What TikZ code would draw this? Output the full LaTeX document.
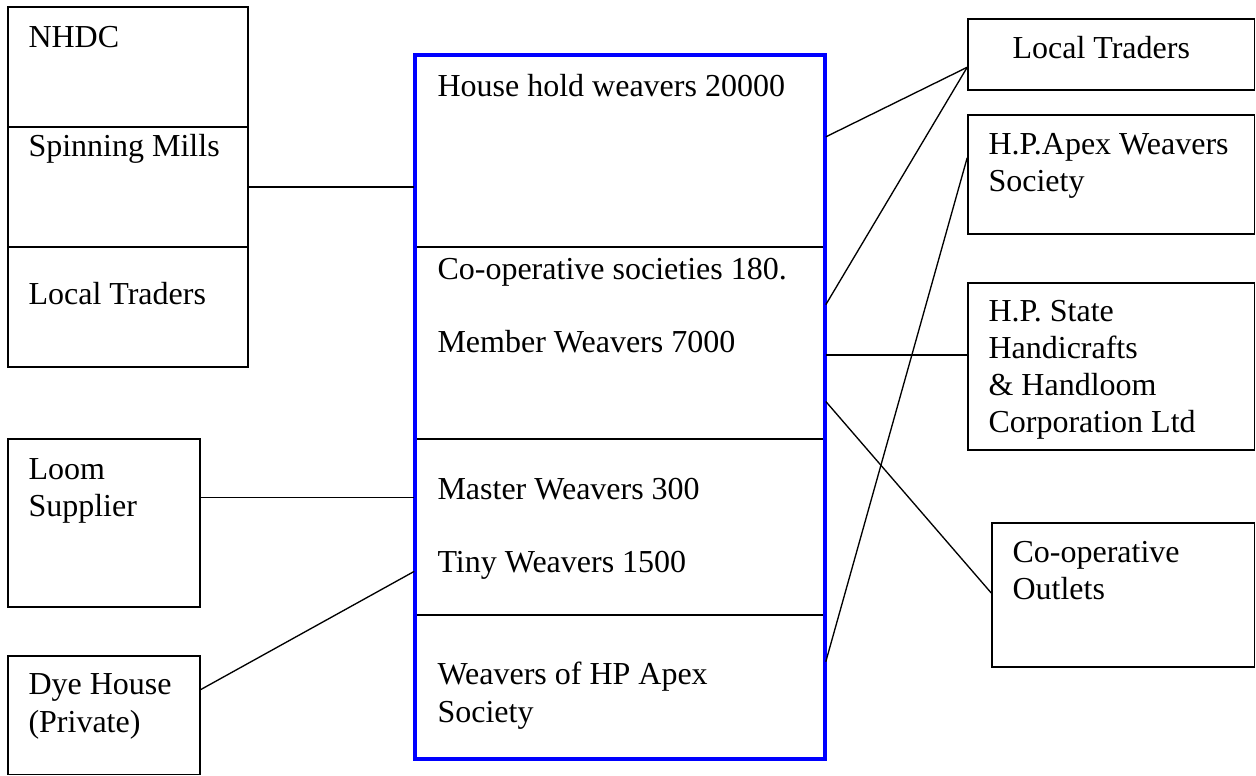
\documentclass[tikz,border=0pt]{standalone}
\usepackage{fontspec}
\setmainfont{Liberation Serif}
\usetikzlibrary{fit,calc}
\begin{document}
\begin{tikzpicture}[x=0.375pt,y=-0.375pt,
  box/.style={draw=black, line width=0.6pt, inner sep=0pt},
  bluebox/.style={draw=blue, line width=1.25pt, inner sep=0pt},
  lbl/.style={font=\fontsize{12}{13.9}\selectfont, inner sep=0pt, anchor=base west, align=left},
  conn/.style={draw=black, line width=0.5pt}]
\useasboundingbox (0,0) rectangle (1256,776);
% left stacked boxes
\node[box, fit={(8,7)(248,127)}] (nhdc) {};
\node[box, fit={(8,127)(248,247)}] (spin) {};
\node[box, fit={(8,247)(248,367)}] (ltl) {};
\node[box, fit={(8,439)(200,607)}] (loom) {};
\node[box, fit={(8,656)(200,774.5)}] (dye) {};
% middle sections
\node[box, fit={(415,55)(825,247)}] (hh) {};
\node[box, fit={(415,247)(825,439)}] (coop) {};
\node[box, fit={(415,439)(825,615)}] (master) {};
\node[box, fit={(415,615)(825,759)}] (apex) {};
\node[bluebox, fit={(415,55)(825,759)}] (mid) {};
% right boxes
\node[box, fit={(968,19)(1254.5,90)}] (rlt) {};
\node[box, fit={(968,115)(1254.5,234)}] (rapex) {};
\node[box, fit={(968,283)(1254.5,450)}] (rstate) {};
\node[box, fit={(992,523)(1254.5,667)}] (rout) {};
% labels (base = baseline of last line)
\node[lbl] (tnhdc) at (28,48) {NHDC};
\node[lbl] (tspin) at (28,157) {Spinning Mills};
\node[lbl] (tltl) at (28,305) {Local Traders};
\node[lbl] (tloom) at (28,517) {Loom\\Supplier};
\node[lbl] (tdye) at (28,732) {Dye House\\(Private)};
\node[lbl] (thh) at (437,97) {House hold weavers 20000};
\node[lbl] (tcoop) at (437,280) {Co-operative societies 180.};
\node[lbl] (tmem) at (437,353) {Member Weavers 7000};
\node[lbl] (tmaster) at (437,500) {Master Weavers 300};
\node[lbl] (ttiny) at (437,573) {Tiny Weavers 1500};
\node[lbl] (tapex) at (437,722) {Weavers of HP Apex\\Society};
\node[lbl] (trlt) at (1012,59) {Local Traders};
\node[lbl] (trapex) at (988,192) {H.P.Apex Weavers\\Society};
\node[lbl] (trstate) at (988,433) {H.P. State\\Handicrafts\\\& Handloom\\Corporation Ltd};
\node[lbl] (trout) at (1012,600) {Co-operative\\Outlets};
% connectors left
\draw[conn] (spin.east) -- (spin.east -| hh.west);
\coordinate (loomR) at ($(loom.north east)!0.351!(loom.south east)$);
\draw[conn] (loomR) -- (loomR -| master.west);
\draw[conn] ($(dye.north east)!0.286!(dye.south east)$) -- ($(master.north west)!0.75!(master.south west)$);
% connectors right
\coordinate (rltL) at ($(rlt.north west)!0.676!(rlt.south west)$);
\draw[conn] ($(hh.north east)!0.427!(hh.south east)$) -- (rltL);
\draw[conn] ($(coop.north east)!0.302!(coop.south east)$) -- (rltL);
\coordinate (coopR) at ($(coop.north east)!0.5625!(coop.south east)$);
\draw[conn] (coopR) -- (coopR -| rstate.west);
\draw[conn] ($(coop.north east)!0.802!(coop.south east)$) -- ($(rout.north west)!0.486!(rout.south west)$);
\draw[conn] ($(apex.north east)!0.326!(apex.south east)$) -- ($(rapex.north west)!0.361!(rapex.south west)$);
\end{tikzpicture}
\end{document}
